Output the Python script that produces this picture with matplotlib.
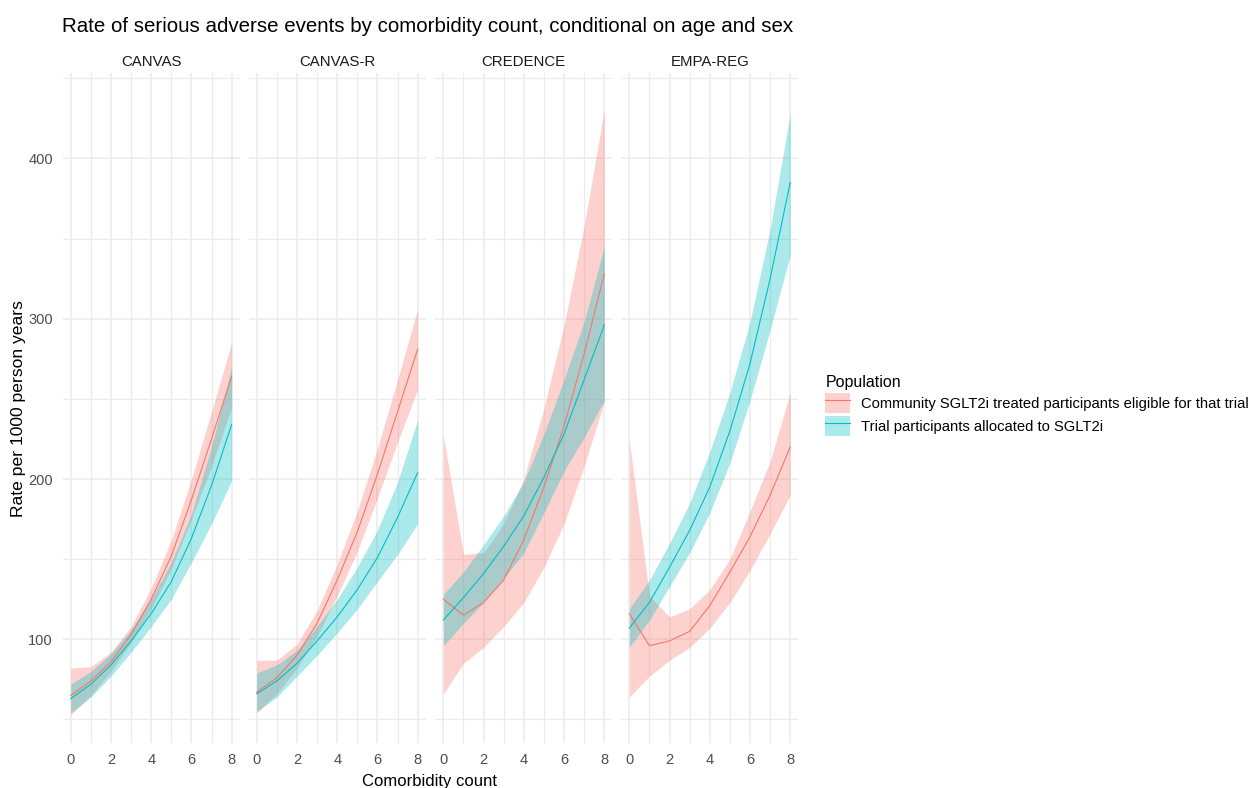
import numpy as np
import matplotlib
matplotlib.use("Agg")
import matplotlib.pyplot as plt
from matplotlib.patches import Patch
from matplotlib.lines import Line2D
from matplotlib.legend_handler import HandlerTuple

plt.rcParams['font.family'] = ['Liberation Sans', 'DejaVu Sans']

comorbidity = [0, 1, 2, 3, 4, 5, 6, 7, 8]
trials = ['CANVAS', 'CANVAS-R', 'CREDENCE', 'EMPA-REG']
populations = ['Community SGLT2i treated participants eligible for that trial',
               'Trial participants allocated to SGLT2i']

# community (eligible) estimates per trial: rate, lower, upper
canvas_comm = [65, 74, 86, 103, 125, 152, 187, 225, 264]
canvas_comm_lo = [53, 65, 80, 98, 119, 144, 175, 208, 245]
canvas_comm_hi = [82, 83, 92, 108, 132, 162, 200, 242, 285]
canvasr_comm = [67, 76, 90, 110, 137, 167, 203, 242, 281]
canvasr_comm_lo = [54, 66, 82, 102, 127, 155, 188, 223, 256]
canvasr_comm_hi = [87, 87, 97, 118, 147, 180, 219, 262, 306]
credence_comm = [125, 115, 123, 137, 162, 195, 233, 278, 328]
credence_comm_lo = [66, 85, 95, 108, 123, 145, 172, 208, 248]
credence_comm_hi = [227, 153, 154, 172, 200, 244, 296, 358, 430]
empareg_comm = [116, 96, 99, 105, 121, 142, 164, 190, 220]
empareg_comm_lo = [64, 77, 87, 95, 107, 123, 143, 166, 190]
empareg_comm_hi = [224, 127, 114, 119, 131, 150, 180, 211, 254]

# trial participants estimates per trial: rate, lower, upper
canvas_trial = [63, 72, 84, 99, 116, 136, 163, 196, 234]
canvas_trial_lo = [54, 64, 77, 92, 108, 125, 148, 172, 199]
canvas_trial_hi = [72, 80, 91, 106, 125, 148, 178, 220, 270]
canvasr_trial = [66, 74, 85, 99, 114, 131, 151, 176, 204]
canvasr_trial_lo = [55, 64, 77, 90, 104, 119, 136, 153, 172]
canvasr_trial_hi = [79, 84, 93, 108, 125, 145, 168, 198, 237]
credence_trial = [112, 126, 141, 158, 177, 201, 228, 262, 296]
credence_trial_lo = [96, 110, 123, 138, 154, 179, 205, 226, 249]
credence_trial_hi = [128, 142, 159, 177, 198, 228, 262, 298, 345]
empareg_trial = [107, 123, 145, 168, 195, 230, 272, 325, 385]
empareg_trial_lo = [95, 112, 133, 154, 179, 210, 249, 293, 340]
empareg_trial_hi = [119, 137, 160, 185, 217, 254, 298, 356, 428]

comm = [(canvas_comm, canvas_comm_lo, canvas_comm_hi),
        (canvasr_comm, canvasr_comm_lo, canvasr_comm_hi),
        (credence_comm, credence_comm_lo, credence_comm_hi),
        (empareg_comm, empareg_comm_lo, empareg_comm_hi)]
trial = [(canvas_trial, canvas_trial_lo, canvas_trial_hi),
         (canvasr_trial, canvasr_trial_lo, canvasr_trial_hi),
         (credence_trial, credence_trial_lo, credence_trial_hi),
         (empareg_trial, empareg_trial_lo, empareg_trial_hi)]

red = '#F8766D'
teal = '#00BFC4'
W, H = 1257, 788

fig = plt.figure(figsize=(W / 100, H / 100), dpi=100)

lefts = [62.7, 248.7, 435.3, 621.3]
pw = 177
top, bottom = 73, 743

for i, name in enumerate(trials):
    ax = fig.add_axes([lefts[i] / W, 1 - bottom / H, pw / W, (bottom - top) / H])
    for (est, lo, hi), col in [(comm[i], red), (trial[i], teal)]:
        ax.fill_between(comorbidity, lo, hi, color=col, alpha=0.33, linewidth=0)
    for (est, lo, hi), col in [(comm[i], red), (trial[i], teal)]:
        ax.plot(comorbidity, est, color=col, linewidth=0.8)
    ax.set_xlim(-0.4, 8.4)
    ax.set_ylim(35.3, 453.3)
    ax.set_xticks([0, 2, 4, 6, 8])
    ax.set_xticks([1, 3, 5, 7], minor=True)
    ax.set_yticks([100, 200, 300, 400])
    ax.set_yticks([50, 150, 250, 350, 450], minor=True)
    ax.grid(True, which='major', color='#EBEBEB', linewidth=1.1)
    ax.grid(True, which='minor', color='#EBEBEB', linewidth=0.9)
    ax.set_axisbelow(True)
    for s in ax.spines.values():
        s.set_visible(False)
    ax.tick_params(which='both', length=0, labelsize=10.5, labelcolor='#4D4D4D')
    ax.tick_params(axis='x', pad=7)
    ax.tick_params(axis='y', pad=7)
    if i > 0:
        ax.set_yticklabels([])
    ax.set_title(name, fontsize=10.8, color='#1A1A1A', pad=5)

fig.text(62 / W, 1 - 32 / H, 'Rate of serious adverse events by comorbidity count, conditional on age and sex',
         fontsize=14.8, ha='left', va='baseline')
fig.text(19 / W, 1 - 409 / H, 'Rate per 1000 person years', rotation=90, fontsize=12.6,
         ha='center', va='center')
fig.text(430 / W, 1 - 774 / H, 'Comorbidity count', fontsize=12, ha='center', va='top')

handles = [(Patch(facecolor=red, alpha=0.33, linewidth=0), Line2D([], [], color=red, linewidth=0.8)),
           (Patch(facecolor=teal, alpha=0.33, linewidth=0), Line2D([], [], color=teal, linewidth=0.8))]
fig.legend(handles, populations, handler_map={tuple: HandlerTuple(ndivide=1)},
           loc='upper left', bbox_to_anchor=(818 / W, 1 - 368 / H), frameon=False,
           title='Population', title_fontsize=11.5, fontsize=10.6, alignment='left',
           borderpad=0, handlelength=1.7, handleheight=1.8, labelspacing=0.15,
           handletextpad=0.75)

fig.savefig('out.png', dpi=100)
